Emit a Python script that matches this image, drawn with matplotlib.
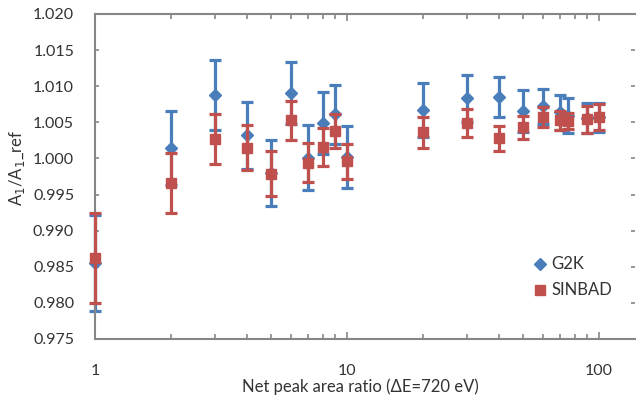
import numpy as np
import matplotlib.pyplot as plt
from matplotlib.lines import Line2D
from matplotlib.ticker import LogLocator, FixedLocator, NullFormatter

plt.rcParams['font.family'] = ['Lato', 'DejaVu Sans']

# net peak area ratio
ratio = [1, 2, 3, 4, 5, 6, 7, 8, 9, 10, 20, 30, 40, 50, 60, 70, 75, 90, 100]

# G2K
g2k = [0.9855, 1.0014, 1.0088, 1.0032, 0.9980, 1.0091, 1.0001, 1.0049, 1.0061, 1.0002,
       1.0067, 1.0083, 1.0085, 1.0066, 1.0072, 1.0064, 1.0059, 1.0056, 1.0057]
g2k_err = [0.0066, 0.0051, 0.0049, 0.0046, 0.0046, 0.0043, 0.0045, 0.0043, 0.0041, 0.0043,
           0.0037, 0.0032, 0.0028, 0.0029, 0.0024, 0.0024, 0.0024, 0.0021, 0.0020]

# SINBAD
sinbad = [0.9862, 0.9966, 1.0027, 1.0015, 0.9979, 1.0053, 0.9994, 1.0016, 1.0038, 0.9996,
          1.0036, 1.0049, 1.0028, 1.0043, 1.0057, 1.0053, 1.0052, 1.0054, 1.0058]
sinbad_err = [0.0062, 0.0041, 0.0035, 0.0031, 0.0031, 0.0027, 0.0027, 0.0026, 0.0024, 0.0024,
              0.0021, 0.0019, 0.0017, 0.0016, 0.0014, 0.0013, 0.0011, 0.0019, 0.0018]

blue = '#4a7ebb'
red = '#c0504d'
grey = '#868686'
txt = '#333333'

fig = plt.figure(figsize=(6.37, 4.01), dpi=100)
ax = fig.add_axes([95 / 637, 62 / 401, 540 / 637, 325 / 401])

for y, err, mk, c, ms, z in [(g2k, g2k_err, 'D', blue, 6.5, 2),
                             (sinbad, sinbad_err, 's', red, 7.5, 3)]:
    eb = ax.errorbar(ratio, y, yerr=err, fmt=mk, color=c, ms=ms, elinewidth=2.3,
                     capsize=4.5, capthick=2.3, zorder=z)
    eb[0].set_clip_on(False)
    for art in eb[1] + eb[2]:
        art.set_clip_on(False)

ax.set_xscale('log')
ax.set_xlim(1, 10 ** (540 / 252))
ax.set_ylim(0.975, 1.020)
yt = np.arange(0.975, 1.0201, 0.005)
ax.set_yticks(yt)
ax.set_yticklabels([f'{v:.3f}' for v in yt])
ax.xaxis.set_major_locator(FixedLocator([1, 10, 100]))
ax.set_xticklabels(['1', '10', '100'])
ax.xaxis.set_minor_locator(LogLocator(base=10, subs=np.arange(2, 10)))
ax.xaxis.set_minor_formatter(NullFormatter())

for s in ['left', 'top', 'bottom']:
    ax.spines[s].set_color(grey)
    ax.spines[s].set_linewidth(1.5)
ax.spines['right'].set_visible(False)

ax.tick_params(axis='x', which='major', direction='in', top=True, length=5, width=1.2,
               color=grey, pad=18, labelsize=11.5, labelcolor=txt)
ax.tick_params(axis='x', which='minor', direction='in', top=True, length=3.5, width=1.2,
               color=grey)
ax.tick_params(axis='y', which='major', direction='in', right=True, length=3, width=1.2,
               color=grey, pad=15, labelsize=11.5, labelcolor=txt)

fig.text(360 / 637, 1 - 387 / 401, 'Net peak area ratio (\u0394E=720 eV)', ha='center',
         va='center', fontsize=12, color=txt)
fig.text(17 / 637, 1 - 168 / 401, 'A$_1$/A$_1$_ref', rotation=90, ha='center',
         va='center', fontsize=12, color=txt)

handles = [Line2D([], [], marker='D', color=blue, ls='none', ms=6.5),
           Line2D([], [], marker='s', color=red, ls='none', ms=7.5)]
fig.legend(handles, ['G2K', 'SINBAD'], loc='upper left',
           bbox_to_anchor=(525 / 637, 1 - 248 / 401), frameon=False, fontsize=12,
           handlelength=0.8, handletextpad=0.3, borderpad=0, labelspacing=0.6,
           labelcolor=txt)

fig.savefig('out.png', dpi=100)
